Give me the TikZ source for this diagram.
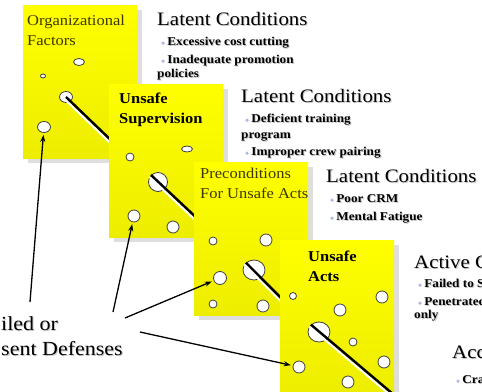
\documentclass[tikz,border=0pt]{standalone}
\usepackage{fontspec}
\setmainfont{Liberation Serif}[FakeStretch=1.1]
\usetikzlibrary{arrows.meta,shapes.geometric,shadows}

\definecolor{panelyellow}{RGB}{255,255,0}
\definecolor{titleolive}{RGB}{60,55,0}
\definecolor{bulletblue}{RGB}{175,185,230}
\newcommand{\bul}{\textcolor{bulletblue}{\rotatebox{45}{\rule{2.6pt}{2.6pt}}}\hspace{2.5pt}}
\newcommand{\softshadow}[1]{\makebox[0pt][l]{\textcolor{black!22}{\kern1pt\raisebox{-1pt}{#1}}}#1}

\tikzset{
  panel/.style={anchor=north west, minimum width=114, minimum height=153, inner sep=0pt,
    top color=panelyellow, bottom color=panelyellow!93!black,
    drop shadow={shadow xshift=5pt, shadow yshift=-5pt, fill=black!13, opacity=1}},
  ptitle/.style={anchor=base west, inner sep=0pt, align=left, text=titleolive,
    font=\fontsize{15}{19.5}\selectfont},
  btitle/.style={ptitle, text=black, font=\bfseries\fontsize{15}{19.5}\selectfont},
  hole/.style={circle, draw=black!75, fill=white, inner sep=0pt, line width=.8pt},
  oval/.style={ellipse, draw=black!75, fill=white, inner sep=0pt, line width=.8pt},
  trajectory/.style={line width=2.4pt,
    preaction={draw=white, line width=2pt, transform canvas={shift={(-1.8pt,-1.8pt)}}}},
  header/.style={anchor=base west, inner sep=0pt, font=\fontsize{19}{22}\selectfont},
  item/.style={anchor=base west, inner sep=0pt, font=\bfseries\fontsize{12}{14}\selectfont},
  defense/.style={anchor=base west, inner sep=0pt, font=\fontsize{20}{24}\selectfont},
  defarrow/.style={-{Stealth[length=7pt,width=5pt]}, line width=1.3pt, shorten >=2pt}
}

\begin{document}
\begin{tikzpicture}[x=1pt, y=-1pt]
 \useasboundingbox (0,0) rectangle (482,391);

 % organizational factors
 \node (org) [panel] at (23,5) {};
 \node (orgtitle) [ptitle] at (27,45) {Organizational\\Factors};
 \node (o1) [oval, minimum width=11, minimum height=7] at (79,62) {};
 \node (o2) [oval, minimum width=5, minimum height=4] at (43,76) {};
 \node (o3) [oval, minimum width=13, minimum height=11] at (66,97) {};
 \node (o4) [oval, minimum width=13, minimum height=11] at (44,127) {};
 \coordinate (t1) at (116,145);
 \draw[trajectory] (o3.center) -- (t1);

 % unsafe supervision
 \node (sup) [panel] at (109,84) {};
 \node (suptitle) [btitle] at (119,123) {Unsafe\\Supervision};
 \node (s1) [hole, minimum size=8] at (130,157) {};
 \node (s2) [oval, minimum width=11, minimum height=6] at (187,149) {};
 \node (s3) [hole, minimum size=19] at (158,182) {};
 \node (s4) [hole, minimum size=12] at (134,216) {};
 \node (s5) [hole, minimum size=12] at (173,227) {};
 \coordinate (t2) at (201,222);
 \draw[trajectory] (s3.north west) -- (t2);

 % preconditions
 \node (pre) [panel] at (194,162) {};
 \node (pretitle) [ptitle] at (200,198) {Preconditions\\For Unsafe Acts};
 \node (p1) [hole, minimum size=8] at (213,241) {};
 \node (p2) [hole, minimum size=12] at (266,240) {};
 \node (p3) [oval, minimum width=22, minimum height=20] at (254,270) {};
 \node (p4) [hole, minimum size=13] at (220,278) {};
 \node (p5) [hole, minimum size=8] at (213,304) {};
 \node (p6) [hole, minimum size=12] at (263,306) {};
 \coordinate (t3) at (288,305);
 \draw[trajectory] (p3.north west) -- (t3);

 % unsafe acts
 \node (act) [panel] at (280,240) {};
 \node (acttitle) [btitle] at (308,281) {Unsafe\\Acts};
 \node (a1) [hole, minimum size=7] at (293,296) {};
 \node (a2) [hole, minimum size=12] at (382,297) {};
 \node (a3) [hole, minimum size=12] at (340,310) {};
 \node (a4) [oval, minimum width=22, minimum height=20] at (319,332) {};
 \node (a5) [hole, minimum size=8] at (353,342) {};
 \node (a6) [hole, minimum size=12] at (299,367) {};
 \node (a7) [hole, minimum size=12] at (384,362) {};
 \node (a8) [hole, minimum size=12] at (348,382) {};
 \coordinate (t4) at (400,400);
 \draw[trajectory] (a4.north west) -- (t4);

 % conditions
 \node (lat1) [header] at (157,25) {\softshadow{Latent Conditions}};
 \node (lat1a) [item] at (161,45) {\bul\softshadow{Excessive cost cutting}};
 \node (lat1b) [item] at (161,63) {\bul\softshadow{Inadequate promotion}};
 \node (lat1c) [item] at (157,77) {\softshadow{policies}};
 \node (lat2) [header] at (241,102) {\softshadow{Latent Conditions}};
 \node (lat2a) [item] at (245,122) {\bul\softshadow{Deficient training}};
 \node (lat2b) [item] at (241,138) {\softshadow{program}};
 \node (lat2c) [item] at (245,155) {\bul\softshadow{Improper crew pairing}};
 \node (lat3) [header] at (326,182) {\softshadow{Latent Conditions}};
 \node (lat3a) [item] at (330,202) {\bul\softshadow{Poor CRM}};
 \node (lat3b) [item] at (330,220) {\bul\softshadow{Mental Fatigue}};
 \node (actv) [header] at (414,268) {\softshadow{Active C}};
 \node (actva) [item] at (418,287) {\bul\softshadow{Failed to S}};
 \node (actvb) [item] at (418,305) {\bul\softshadow{Penetrated}};
 \node (actvc) [item] at (414,318) {\softshadow{only}};
 \node (acc) [header] at (452,358) {\softshadow{Acc}};
 \node (acca) [item] at (456,383) {\bul\softshadow{Cra}};

 % failed or absent defenses
 \node (def1) [defense] at (1,330) {\softshadow{iled or}};
 \node (def2) [defense] at (1,355) {\softshadow{sent Defenses}};
 \coordinate (d1) at (30,302);
 \coordinate (d2) at (113,312);
 \coordinate (d3) at (125,318);
 \coordinate (d4) at (140,332);
 \draw[defarrow] (d1) -- (o4);
 \draw[defarrow] (d2) -- (s4);
 \draw[defarrow] (d3) -- (p4);
 \draw[defarrow] (d4) -- (a6);
\end{tikzpicture}
\end{document}
